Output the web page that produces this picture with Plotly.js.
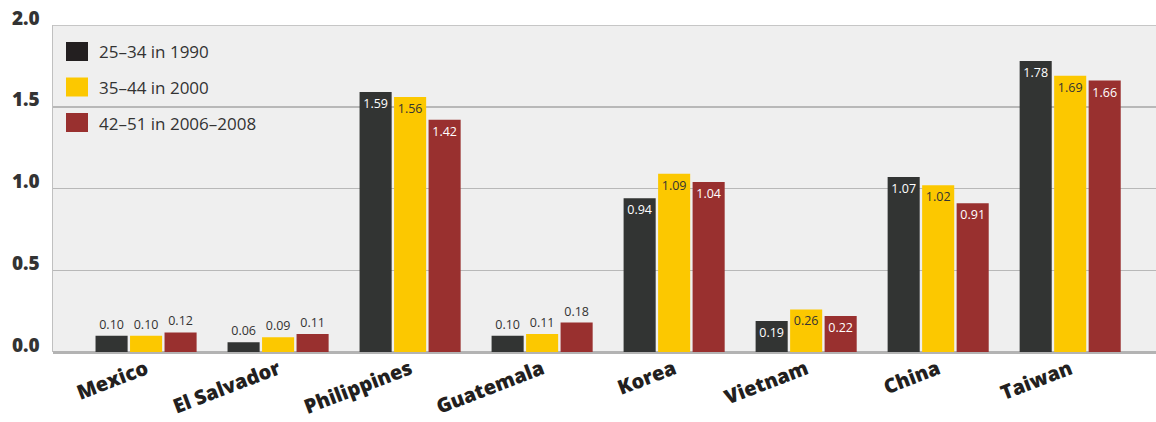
<!DOCTYPE html>
<html>
<head>
<meta charset="utf-8">
<script src="https://cdn.plot.ly/plotly-3.0.1.min.js"></script>
<style>html,body{margin:0;padding:0;background:#fff;}#chart{width:1156px;height:422px;}</style>
</head>
<body>
<div id="chart"></div>
<script>
const categories = ["Mexico", "El Salvador", "Philippines", "Guatemala", "Korea", "Vietnam", "China", "Taiwan"];
const seriesNames = ["25\u201334 in 1990", "35\u201344 in 2000", "42\u201351 in 2006\u20132008"];
const s1990 = [0.10, 0.06, 1.59, 0.10, 0.94, 0.19, 1.07, 1.78];
const s2000 = [0.10, 0.09, 1.56, 0.11, 1.09, 0.26, 1.02, 1.69];
const s2008 = [0.12, 0.11, 1.42, 0.18, 1.04, 0.22, 0.91, 1.66];
const yTicks = [0, 0.5, 1.0, 1.5, 2.0];
const yTickLabels = ["0.0", "0.5", "1.0", "1.5", "2.0"];

const colors = ["#323433", "#fcc800", "#99302f"];
const legendColors = ["#231f20", "#fcc800", "#99302f"];
const insideColors = ["#ffffff", "#333333", "#ffffff"];
const allSeries = [s1990, s2000, s2008];

const traces = allSeries.map((vals, i) => ({
  type: "bar",
  name: seriesNames[i],
  x: categories,
  y: vals,
  marker: {color: colors[i], line: {width: 0}},
  text: vals.map(v => v.toFixed(2)),
  textposition: vals.map(v => v < 0.185 ? "outside" : "inside"),
  insidetextanchor: "end",
  textangle: 0,
  constraintext: "none",
  cliponaxis: false,
  insidetextfont: {family: "Open Sans, sans-serif", size: 12.5, color: insideColors[i]},
  outsidetextfont: {family: "Open Sans, sans-serif", size: 12.5, color: "#333333"},
  hoverinfo: "x+y",
  showlegend: false
}));

const shapes = [{
  type: "line", xref: "paper", yref: "y", x0: 0, x1: 1, y0: 2.0, y1: 2.0,
  line: {color: "#b8b8b8", width: 1.5}
}];
const annotations = [];
seriesNames.forEach((name, i) => {
  const yTop = 42 + i * 35.5;
  shapes.push({
    type: "rect", xref: "paper", yref: "paper",
    x0: (66 - 53) / 1103, x1: (88 - 53) / 1103,
    y0: 1 - (yTop + 19 - 25) / 327, y1: 1 - (yTop - 25) / 327,
    fillcolor: legendColors[i], line: {width: 0}
  });
  annotations.push({
    xref: "paper", yref: "paper",
    x: (97 - 53) / 1103, y: 1 - (yTop + 10 - 25) / 327,
    xanchor: "left", yanchor: "middle",
    text: name, showarrow: false,
    font: {family: "Open Sans, sans-serif", size: 17, color: "#333333"}
  });
});

const layout = {
  width: 1156, height: 422,
  margin: {l: 53, r: 0, t: 25, b: 70},
  paper_bgcolor: "#ffffff",
  plot_bgcolor: "#efefef",
  barmode: "group",
  bargap: 0.216,
  bargroupgap: 0.07,
  showlegend: false,
  xaxis: {
    range: [-0.705, 7.65],
    tickangle: -21,
    tickfont: {family: "Open Sans, sans-serif", size: 20, color: "#231f20", weight: 800},
    ticklabelstandoff: 1,
    showgrid: false,
    showline: false,
    zeroline: false,
    ticks: ""
  },
  yaxis: {
    range: [0, 2.0],
    tickvals: yTicks,
    ticktext: yTickLabels,
    tickfont: {family: "Open Sans, sans-serif", size: 19, color: "#333333", weight: 800},
    ticklabelshift: -7,
    ticklabelstandoff: 8,
    showgrid: true,
    gridcolor: "#b8b8b8",
    gridwidth: 1.5,
    zeroline: true,
    zerolinecolor: "#b3b3b3",
    zerolinewidth: 3,
    showline: true,
    linecolor: "#c0c0c0",
    linewidth: 1.5,
    ticks: ""
  },
  shapes: shapes,
  annotations: annotations
};

Plotly.newPlot("chart", traces, layout, {displayModeBar: false, staticPlot: true});
</script>
</body>
</html>
